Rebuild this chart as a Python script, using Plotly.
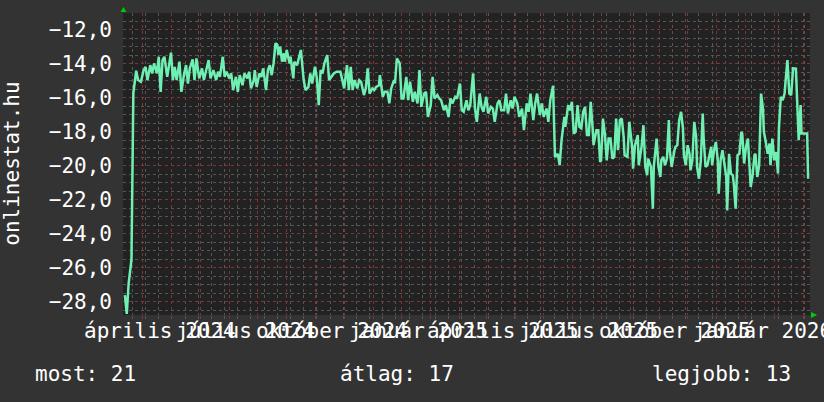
import pandas as pd
import plotly.graph_objects as go

# ---- data -------------------------------------------------------------
start_date = "2024-02-09"
end_date = "2026-02-08"

# days since start_date of each sample
day = [2, 4, 6, 9, 11, 14, 16, 19, 22, 24, 26, 29, 31, 33, 36, 38, 40, 42, 44, 47,
       51, 53, 55, 57, 60, 62, 65, 67, 69, 71, 74, 76, 78, 81, 84, 86, 88, 91, 93, 96,
       99, 101, 103, 106, 108, 110, 113, 115, 117, 120, 122, 124, 127, 129, 132, 134, 136, 139, 140, 142,
       145, 147, 149, 152, 154, 156, 158, 160, 162, 164, 165, 167, 169, 171, 172, 174, 177, 178, 181, 182,
       185, 187, 189, 192, 194, 197, 199, 201, 204, 206, 208, 210, 212, 214, 217, 219, 224, 227, 231, 233,
       235, 238, 240, 242, 244, 246, 249, 251, 253, 256, 258, 260, 262, 265, 267, 269, 272, 273, 276, 278,
       281, 283, 285, 288, 289, 291, 294, 296, 298, 301, 303, 305, 308, 310, 313, 315, 317, 320, 322, 324,
       327, 329, 331, 334, 336, 338, 341, 343, 346, 348, 350, 353, 355, 358, 360, 362, 365, 367, 369, 372,
       374, 376, 379, 381, 383, 386, 388, 391, 393, 395, 398, 400, 402, 405, 407, 409, 412, 414, 416, 419,
       421, 424, 426, 429, 431, 433, 436, 438, 440, 443, 445, 447, 450, 452, 454, 457, 459, 462, 464, 466,
       469, 470, 473, 475, 477, 479, 481, 483, 485, 487, 489, 491, 493, 495, 497, 499, 500, 503, 505, 507,
       508, 510, 512, 514, 516, 518, 520, 522, 524, 526, 528, 530, 532, 533, 536, 538, 541, 542, 544, 547,
       548, 551, 553, 555, 557, 558, 561, 563, 564, 567, 569, 571, 572, 574, 576, 578, 580, 581, 583, 586,
       587, 589, 591, 593, 595, 596, 598, 600, 602, 603, 605, 607, 609, 610, 612, 614, 616, 617, 619, 621,
       623, 625, 626, 628, 630, 632, 633, 635, 637, 639, 641, 642, 644, 646, 648, 649, 651, 653, 655, 657,
       658, 660, 662, 664, 665, 667, 669, 671, 672, 674, 676, 678, 680, 681, 683, 685, 687, 688, 690, 692,
       694, 696, 697, 699, 701, 703, 704, 706, 708, 710, 712, 713, 715, 718, 720, 721, 724, 727, 728]

value = [-27.6, -28.7, -26.9, -25.5, -15.74, -14.42, -14.97, -15.07, -14.38, -14.19, -14.97, -14.09, -14.58, -13.99, -14.58, -13.6, -15.66, -13.8, -13.6, -14.78,
         -13.36, -14.97, -14.19, -14.97, -13.89, -15.66, -14.58, -14.09, -15.17, -14.28, -13.75, -14.97, -13.7, -14.87, -14.28, -14.97, -14.48, -13.8, -14.87, -14.38,
         -14.97, -14.48, -14.78, -13.6, -14.78, -14.48, -14.87, -14.58, -15.56, -14.78, -15.66, -14.68, -15.27, -14.58, -14.87, -14.48, -15.46, -14.97, -14.38, -15.37,
         -14.58, -14.78, -14.28, -15.56, -14.38, -14.09, -14.68, -13.99, -12.81, -12.9, -13.5, -13.01, -13.89, -13.4, -13.89, -13.2, -13.99, -13.6, -14.87, -13.89,
         -14.09, -13.6, -13.2, -14.97, -15.56, -15.37, -14.58, -15.17, -14.19, -14.87, -16.44, -14.38, -14.58, -13.99, -13.5, -14.97, -14.58, -14.48, -14.48, -14.97,
         -15.46, -14.09, -15.56, -14.19, -15.56, -14.97, -15.46, -14.97, -15.07, -15.85, -15.46, -14.28, -15.76, -15.46, -15.56, -15.37, -15.27, -14.68, -15.95, -15.66,
         -15.66, -16.34, -15.46, -14.97, -15.17, -13.7, -13.99, -16.05, -16.05, -14.78, -16.15, -15.07, -16.24, -15.66, -16.34, -14.38, -16.54, -15.76, -15.66, -17.13,
         -16.44, -14.78, -16.05, -15.85, -16.05, -16.15, -16.74, -16.44, -17.13, -16.05, -16.34, -15.95, -16.05, -15.17, -16.74, -16.83, -16.15, -16.74, -16.44, -14.58,
         -16.64, -17.42, -15.76, -16.54, -16.83, -15.95, -16.93, -16.54, -16.64, -17.42, -16.34, -16.15, -16.74, -16.74, -15.76, -16.93, -16.15, -16.64, -15.95, -16.34,
         -17.13, -16.64, -17.91, -16.34, -16.83, -15.76, -17.32, -16.34, -15.76, -17.03, -16.34, -17.13, -16.64, -17.42, -16.15, -15.3, -19.48, -19.3, -19.97, -18.5,
         -17.13, -17.72, -16.44, -16.74, -16.24, -18.11, -18.0, -16.44, -17.72, -17.8, -16.83, -16.54, -18.2, -18.2, -16.24, -17.8, -18.79, -17.91, -17.91, -19.78,
         -19.68, -17.23, -18.11, -19.68, -18.4, -18.4, -19.58, -19.48, -17.23, -19.09, -17.32, -17.23, -18.3, -19.38, -19.48, -17.42, -18.89, -20.17, -18.79, -18.2,
         -19.97, -18.89, -17.62, -20.07, -20.56, -19.58, -20.07, -22.52, -20.07, -18.4, -20.07, -20.66, -19.68, -19.48, -19.97, -19.58, -17.32, -19.09, -20.07, -19.09,
         -18.89, -18.79, -17.32, -16.83, -17.8, -19.38, -19.97, -18.79, -19.3, -20.27, -19.68, -17.42, -18.3, -20.07, -20.76, -19.68, -16.93, -18.4, -20.07, -19.97,
         -19.3, -18.89, -19.97, -19.09, -18.6, -19.68, -21.64, -19.68, -19.09, -19.87, -20.66, -22.62, -19.3, -20.46, -20.56, -21.05, -22.52, -19.38, -19.3, -18.01,
         -18.11, -19.87, -18.89, -18.4, -19.48, -21.25, -20.56, -19.38, -19.3, -20.66, -19.97, -15.76, -16.64, -18.01, -18.6, -19.3, -18.69, -19.97, -18.4, -19.68,
         -19.2, -20.46, -17.8, -15.95, -16.15, -15.76, -15.07, -13.8, -15.76, -15.85, -14.28, -14.28, -14.3, -18.5, -16.44, -18.11, -18.11, -18.11, -20.76]

month_starts = ["2024-03-01", "2024-04-01", "2024-05-01", "2024-06-01", "2024-07-01", "2024-08-01",
                "2024-09-01", "2024-10-01", "2024-11-01", "2024-12-01", "2025-01-01", "2025-02-01",
                "2025-03-01", "2025-04-01", "2025-05-01", "2025-06-01", "2025-07-01", "2025-08-01",
                "2025-09-01", "2025-10-01", "2025-11-01", "2025-12-01", "2026-01-01", "2026-02-01"]
label_months = ["2024-04-01", "2024-07-01", "2024-10-01", "2025-01-01",
                "2025-04-01", "2025-07-01", "2025-10-01", "2026-01-01"]
label_text = ["április 2024", "július 2024", "október 2024", "január 2025",
              "április 2025", "július 2025", "október 2025", "január 2026"]
y_ticks = [-28, -26, -24, -22, -20, -18, -16, -14, -12]
legend_text = ["most: 21", "átlag: 17", "legjobb: 13"]
axis_title = "onlinestat.hu"

# ---- figure -----------------------------------------------------------
FONT = "DejaVu Sans Mono"
x = pd.Timestamp(start_date) + pd.to_timedelta(day, unit="D")

fig = go.Figure()
fig.add_trace(go.Scatter(x=x, y=value, mode="lines",
                         line=dict(color="#6ff0b2", width=2.5), hoverinfo="skip"))

MAJOR = "#7d3535"
MINOR = "#565656"

fig.update_layout(
    width=824, height=402,
    margin=dict(l=123, r=14, t=13, b=87),
    paper_bgcolor="#333333", plot_bgcolor="#222222",
    showlegend=False,
    separators=", ",
    font=dict(family=FONT, size=21, color="#ffffff"),
)

fig.update_xaxes(
    range=[start_date, end_date], type="date",
    tickmode="array", tickvals=month_starts, ticktext=[""] * len(month_starts),
    showticklabels=False,
    showgrid=True, gridcolor=MAJOR, griddash="dot", gridwidth=1,
    ticks="outside", ticklen=3, tickcolor=MAJOR,
    minor=dict(tick0="2024-04-01", dtick=14 * 86400000, showgrid=True,
               gridcolor=MINOR, griddash="dot", gridwidth=1,
               ticks="outside", ticklen=3, tickcolor=MINOR),
    showline=False, zeroline=False, fixedrange=True,
)
fig.update_yaxes(
    range=[-28.765, -11.03],
    tickmode="array", tickvals=y_ticks, tickformat=".1f",
    tickfont=dict(family=FONT, size=21, color="#ffffff"),
    ticklabelstandoff=10,
    showgrid=True, gridcolor=MAJOR, griddash="dot", gridwidth=1,
    minor=dict(dtick=0.5, tick0=-28, showgrid=True, gridcolor=MINOR,
               griddash="dot", gridwidth=1),
    showline=False, zeroline=False, fixedrange=True,
)

annotations = []
for m, t in zip(label_months, label_text):
    annotations.append(dict(
        x=pd.Timestamp(m) - pd.Timedelta(days=13), xref="x",
        y=-0.053, yref="paper", yanchor="middle", xanchor="center",
        text=t, showarrow=False, font=dict(family=FONT, size=21, color="#ffffff")))

for t, px in zip(legend_text, [-0.1312, 0.3134, 0.7668]):
    annotations.append(dict(
        x=px, xref="paper", y=-0.195, yref="paper", xanchor="left", yanchor="middle",
        text=t, showarrow=False, font=dict(family=FONT, size=21, color="#ffffff")))

annotations.append(dict(
    x=-0.162, xref="paper", y=0.5, yref="paper", xanchor="center", yanchor="middle",
    text=axis_title, textangle=-90, showarrow=False,
    font=dict(family=FONT, size=21, color="#ffffff")))

fig.update_layout(annotations=annotations)

# rrdtool-style axis arrows
fig.add_shape(type="path", xref="paper", yref="paper",
              xsizemode="pixel", ysizemode="pixel", xanchor=0, yanchor=1,
              path="M -2.5,1 L 3.5,1 L 0.5,6 Z", fillcolor="#00cc00", line=dict(width=0))
fig.add_shape(type="path", xref="paper", yref="paper",
              xsizemode="pixel", ysizemode="pixel", xanchor=1, yanchor=0,
              path="M 1,3 L 1,-3 L 7,0 Z", fillcolor="#00cc00", line=dict(width=0))

fig.write_html("out.html",
               config={"displayModeBar": False, "staticPlot": True},
               post_script="document.body.style.margin='0';"
                           "document.body.style.background='#333333';")
